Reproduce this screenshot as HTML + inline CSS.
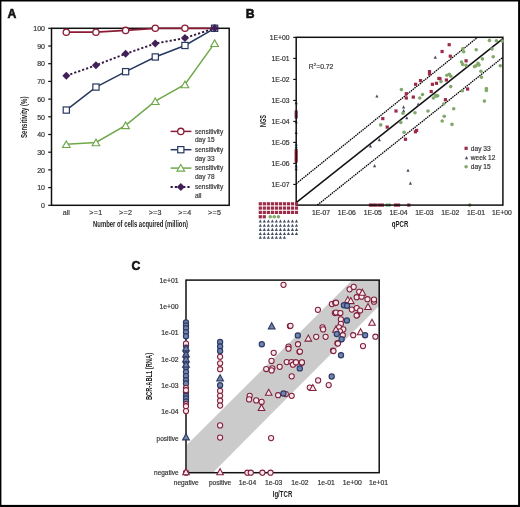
<!DOCTYPE html>
<html><head><meta charset="utf-8"><style>
html,body{margin:0;padding:0;background:#fff;}
svg{display:block;will-change:transform;font-family:"Liberation Sans", sans-serif;}
</style></head><body>
<svg width="520" height="507" viewBox="0 0 520 507">
<rect x="0" y="0" width="520" height="507" fill="#fff"/>
<text x="7.6" y="18.2" font-size="12.2" text-anchor="start" font-weight="bold" fill="#111" stroke="#111" stroke-width="0.55">A</text>
<rect x="51.5" y="28.3" width="177.7" height="177.0" fill="none" stroke="#111" stroke-width="1.5"/>
<line x1="48.2" y1="205.3" x2="51.5" y2="205.3" stroke="#111" stroke-width="1.2" />
<text x="45.0" y="208.0" font-size="7" text-anchor="end" font-weight="normal" fill="#333" stroke="#333" stroke-width="0.18" >0</text>
<line x1="48.2" y1="187.60000000000002" x2="51.5" y2="187.60000000000002" stroke="#111" stroke-width="1.2" />
<text x="45.0" y="190.3" font-size="7" text-anchor="end" font-weight="normal" fill="#333" stroke="#333" stroke-width="0.18" >10</text>
<line x1="48.2" y1="169.9" x2="51.5" y2="169.9" stroke="#111" stroke-width="1.2" />
<text x="45.0" y="172.6" font-size="7" text-anchor="end" font-weight="normal" fill="#333" stroke="#333" stroke-width="0.18" >20</text>
<line x1="48.2" y1="152.20000000000002" x2="51.5" y2="152.20000000000002" stroke="#111" stroke-width="1.2" />
<text x="45.0" y="154.9" font-size="7" text-anchor="end" font-weight="normal" fill="#333" stroke="#333" stroke-width="0.18" >30</text>
<line x1="48.2" y1="134.5" x2="51.5" y2="134.5" stroke="#111" stroke-width="1.2" />
<text x="45.0" y="137.2" font-size="7" text-anchor="end" font-weight="normal" fill="#333" stroke="#333" stroke-width="0.18" >40</text>
<line x1="48.2" y1="116.80000000000001" x2="51.5" y2="116.80000000000001" stroke="#111" stroke-width="1.2" />
<text x="45.0" y="119.50000000000001" font-size="7" text-anchor="end" font-weight="normal" fill="#333" stroke="#333" stroke-width="0.18" >50</text>
<line x1="48.2" y1="99.10000000000001" x2="51.5" y2="99.10000000000001" stroke="#111" stroke-width="1.2" />
<text x="45.0" y="101.80000000000001" font-size="7" text-anchor="end" font-weight="normal" fill="#333" stroke="#333" stroke-width="0.18" >60</text>
<line x1="48.2" y1="81.4" x2="51.5" y2="81.4" stroke="#111" stroke-width="1.2" />
<text x="45.0" y="84.10000000000001" font-size="7" text-anchor="end" font-weight="normal" fill="#333" stroke="#333" stroke-width="0.18" >70</text>
<line x1="48.2" y1="63.70000000000002" x2="51.5" y2="63.70000000000002" stroke="#111" stroke-width="1.2" />
<text x="45.0" y="66.40000000000002" font-size="7" text-anchor="end" font-weight="normal" fill="#333" stroke="#333" stroke-width="0.18" >80</text>
<line x1="48.2" y1="46.0" x2="51.5" y2="46.0" stroke="#111" stroke-width="1.2" />
<text x="45.0" y="48.7" font-size="7" text-anchor="end" font-weight="normal" fill="#333" stroke="#333" stroke-width="0.18" >90</text>
<line x1="48.2" y1="28.30000000000001" x2="51.5" y2="28.30000000000001" stroke="#111" stroke-width="1.2" />
<text x="45.0" y="31.00000000000001" font-size="7" text-anchor="end" font-weight="normal" fill="#333" stroke="#333" stroke-width="0.18" >100</text>
<text x="66.3" y="214.6" font-size="7.1" text-anchor="middle" font-weight="normal" fill="#333" stroke="#333" stroke-width="0.18" >all</text>
<text x="95.96" y="214.6" font-size="7.1" text-anchor="middle" font-weight="normal" fill="#333" stroke="#333" stroke-width="0.18" letter-spacing="0.35">&gt;=1</text>
<text x="125.62" y="214.6" font-size="7.1" text-anchor="middle" font-weight="normal" fill="#333" stroke="#333" stroke-width="0.18" letter-spacing="0.35">&gt;=2</text>
<text x="155.28" y="214.6" font-size="7.1" text-anchor="middle" font-weight="normal" fill="#333" stroke="#333" stroke-width="0.18" letter-spacing="0.35">&gt;=3</text>
<text x="184.94" y="214.6" font-size="7.1" text-anchor="middle" font-weight="normal" fill="#333" stroke="#333" stroke-width="0.18" letter-spacing="0.35">&gt;=4</text>
<text x="214.60000000000002" y="214.6" font-size="7.1" text-anchor="middle" font-weight="normal" fill="#333" stroke="#333" stroke-width="0.18" letter-spacing="0.35">&gt;=5</text>
<text transform="translate(140.5,227.3) scale(0.72,1)" font-size="8.2" text-anchor="middle" fill="#222" font-weight="bold">Number of cells acquired (million)</text>
<text transform="translate(27.2,117.3) rotate(-90) scale(0.74,1)" font-size="8.2" text-anchor="middle" fill="#222" font-weight="bold">Sensitivity (%)</text>
<polyline points="66.30,32.19 95.96,32.19 125.62,30.42 155.28,28.30 184.94,28.30 214.60,28.30" fill="none" stroke="#8a1c35" stroke-width="1.8" />
<polyline points="66.30,110.07 95.96,87.06 125.62,71.67 155.28,56.97 184.94,45.47 214.60,28.30" fill="none" stroke="#26385f" stroke-width="1.5" />
<polyline points="66.30,144.24 95.96,142.47 125.62,125.30 155.28,101.22 184.94,84.41 214.60,43.17" fill="none" stroke="#6fa84a" stroke-width="1.5" />
<polyline points="66.30,75.74 95.96,65.29 125.62,53.79 155.28,43.52 184.94,38.04 214.60,28.30" fill="none" stroke="#33193f" stroke-width="1.9" stroke-dasharray="2.2,2.0"/>
<circle cx="66.30" cy="32.19" r="3.15" fill="#fff" stroke="#8a1c35" stroke-width="1.3"/>
<circle cx="95.96" cy="32.19" r="3.15" fill="#fff" stroke="#8a1c35" stroke-width="1.3"/>
<circle cx="125.62" cy="30.42" r="3.15" fill="#fff" stroke="#8a1c35" stroke-width="1.3"/>
<circle cx="155.28" cy="28.30" r="3.15" fill="#fff" stroke="#8a1c35" stroke-width="1.3"/>
<circle cx="184.94" cy="28.30" r="3.15" fill="#fff" stroke="#8a1c35" stroke-width="1.3"/>
<circle cx="214.60" cy="28.30" r="3.15" fill="#fff" stroke="#8a1c35" stroke-width="1.3"/>
<rect x="63.20" y="106.97" width="6.2" height="6.2" fill="#fff" stroke="#26385f" stroke-width="1.2"/>
<rect x="92.86" y="83.96" width="6.2" height="6.2" fill="#fff" stroke="#26385f" stroke-width="1.2"/>
<rect x="122.52" y="68.57" width="6.2" height="6.2" fill="#fff" stroke="#26385f" stroke-width="1.2"/>
<rect x="152.18" y="53.87" width="6.2" height="6.2" fill="#fff" stroke="#26385f" stroke-width="1.2"/>
<rect x="181.84" y="42.37" width="6.2" height="6.2" fill="#fff" stroke="#26385f" stroke-width="1.2"/>
<rect x="211.50" y="25.20" width="6.2" height="6.2" fill="#fff" stroke="#26385f" stroke-width="1.2"/>
<polygon points="66.30,140.94 70.10,147.54 62.50,147.54" fill="#fff" stroke="#6fa84a" stroke-width="1.15" stroke-linejoin="miter"/>
<polygon points="95.96,139.16 99.76,145.77 92.16,145.77" fill="#fff" stroke="#6fa84a" stroke-width="1.15" stroke-linejoin="miter"/>
<polygon points="125.62,122.00 129.42,128.60 121.82,128.60" fill="#fff" stroke="#6fa84a" stroke-width="1.15" stroke-linejoin="miter"/>
<polygon points="155.28,97.92 159.08,104.52 151.48,104.52" fill="#fff" stroke="#6fa84a" stroke-width="1.15" stroke-linejoin="miter"/>
<polygon points="184.94,81.11 188.74,87.71 181.14,87.71" fill="#fff" stroke="#6fa84a" stroke-width="1.15" stroke-linejoin="miter"/>
<polygon points="214.60,39.87 218.40,46.47 210.80,46.47" fill="#fff" stroke="#6fa84a" stroke-width="1.15" stroke-linejoin="miter"/>
<polygon points="66.30,71.74 70.30,75.74 66.30,79.74 62.30,75.74" fill="#421f5a" stroke="#421f5a" stroke-width="0"/>
<polygon points="95.96,61.29 99.96,65.29 95.96,69.29 91.96,65.29" fill="#421f5a" stroke="#421f5a" stroke-width="0"/>
<polygon points="125.62,49.79 129.62,53.79 125.62,57.79 121.62,53.79" fill="#421f5a" stroke="#421f5a" stroke-width="0"/>
<polygon points="155.28,39.52 159.28,43.52 155.28,47.52 151.28,43.52" fill="#421f5a" stroke="#421f5a" stroke-width="0"/>
<polygon points="184.94,34.04 188.94,38.04 184.94,42.04 180.94,38.04" fill="#421f5a" stroke="#421f5a" stroke-width="0"/>
<polygon points="214.60,24.30 218.60,28.30 214.60,32.30 210.60,28.30" fill="#421f5a" stroke="#421f5a" stroke-width="0"/>
<line x1="170.6" y1="131.4" x2="191.4" y2="131.4" stroke="#8a1c35" stroke-width="1.5" />
<circle cx="180.80" cy="131.40" r="3.15" fill="#fff" stroke="#8a1c35" stroke-width="1.3"/>
<text x="195.0" y="133.6" font-size="6.5" text-anchor="start" font-weight="normal" fill="#333" stroke="#333" stroke-width="0.18" >sensitivity</text>
<text x="195.0" y="142.3" font-size="6.5" text-anchor="start" font-weight="normal" fill="#333" stroke="#333" stroke-width="0.18" >day 15</text>
<line x1="170.6" y1="149.7" x2="191.4" y2="149.7" stroke="#26385f" stroke-width="1.5" />
<rect x="177.70" y="146.60" width="6.2" height="6.2" fill="#fff" stroke="#26385f" stroke-width="1.2"/>
<text x="195.0" y="151.89999999999998" font-size="6.5" text-anchor="start" font-weight="normal" fill="#333" stroke="#333" stroke-width="0.18" >sensitivity</text>
<text x="195.0" y="160.6" font-size="6.5" text-anchor="start" font-weight="normal" fill="#333" stroke="#333" stroke-width="0.18" >day 33</text>
<line x1="170.6" y1="168.1" x2="191.4" y2="168.1" stroke="#6fa84a" stroke-width="1.5" />
<polygon points="180.80,164.47 184.60,171.07 177.00,171.07" fill="#fff" stroke="#6fa84a" stroke-width="1.15" stroke-linejoin="miter"/>
<text x="195.0" y="170.29999999999998" font-size="6.5" text-anchor="start" font-weight="normal" fill="#333" stroke="#333" stroke-width="0.18" >sensitivity</text>
<text x="195.0" y="179.0" font-size="6.5" text-anchor="start" font-weight="normal" fill="#333" stroke="#333" stroke-width="0.18" >day 78</text>
<line x1="170.6" y1="187.0" x2="191.4" y2="187.0" stroke="#33193f" stroke-width="1.9" stroke-dasharray="2.2,2.0"/>
<polygon points="180.80,183.00 184.80,187.00 180.80,191.00 176.80,187.00" fill="#421f5a" stroke="#421f5a" stroke-width="0"/>
<text x="195.0" y="189.2" font-size="6.5" text-anchor="start" font-weight="normal" fill="#333" stroke="#333" stroke-width="0.18" >sensitivity</text>
<text x="195.0" y="197.9" font-size="6.5" text-anchor="start" font-weight="normal" fill="#333" stroke="#333" stroke-width="0.18" >all</text>
<text x="245.8" y="18.2" font-size="12.2" text-anchor="start" font-weight="bold" fill="#111" stroke="#111" stroke-width="0.55">B</text>
<line x1="293.2" y1="37.4" x2="296.2" y2="37.4" stroke="#111" stroke-width="1.1" />
<text x="289.6" y="39.9" font-size="6.8" text-anchor="end" font-weight="normal" fill="#333" stroke="#333" stroke-width="0.18" >1E+00</text>
<line x1="293.2" y1="58.4" x2="296.2" y2="58.4" stroke="#111" stroke-width="1.1" />
<text x="289.6" y="60.9" font-size="6.8" text-anchor="end" font-weight="normal" fill="#333" stroke="#333" stroke-width="0.18" >1E-01</text>
<line x1="293.2" y1="79.4" x2="296.2" y2="79.4" stroke="#111" stroke-width="1.1" />
<text x="289.6" y="81.9" font-size="6.8" text-anchor="end" font-weight="normal" fill="#333" stroke="#333" stroke-width="0.18" >1E-02</text>
<line x1="293.2" y1="100.4" x2="296.2" y2="100.4" stroke="#111" stroke-width="1.1" />
<text x="289.6" y="102.9" font-size="6.8" text-anchor="end" font-weight="normal" fill="#333" stroke="#333" stroke-width="0.18" >1E-03</text>
<line x1="293.2" y1="121.4" x2="296.2" y2="121.4" stroke="#111" stroke-width="1.1" />
<text x="289.6" y="123.9" font-size="6.8" text-anchor="end" font-weight="normal" fill="#333" stroke="#333" stroke-width="0.18" >1E-04</text>
<line x1="293.2" y1="142.4" x2="296.2" y2="142.4" stroke="#111" stroke-width="1.1" />
<text x="289.6" y="144.9" font-size="6.8" text-anchor="end" font-weight="normal" fill="#333" stroke="#333" stroke-width="0.18" >1E-05</text>
<line x1="293.2" y1="163.4" x2="296.2" y2="163.4" stroke="#111" stroke-width="1.1" />
<text x="289.6" y="165.9" font-size="6.8" text-anchor="end" font-weight="normal" fill="#333" stroke="#333" stroke-width="0.18" >1E-06</text>
<line x1="293.2" y1="184.4" x2="296.2" y2="184.4" stroke="#111" stroke-width="1.1" />
<text x="289.6" y="186.9" font-size="6.8" text-anchor="end" font-weight="normal" fill="#333" stroke="#333" stroke-width="0.18" >1E-07</text>
<text x="321.0" y="214.6" font-size="6.8" text-anchor="middle" font-weight="normal" fill="#333" stroke="#333" stroke-width="0.18" >1E-07</text>
<text x="346.85" y="214.6" font-size="6.8" text-anchor="middle" font-weight="normal" fill="#333" stroke="#333" stroke-width="0.18" >1E-06</text>
<text x="372.7" y="214.6" font-size="6.8" text-anchor="middle" font-weight="normal" fill="#333" stroke="#333" stroke-width="0.18" >1E-05</text>
<text x="398.55" y="214.6" font-size="6.8" text-anchor="middle" font-weight="normal" fill="#333" stroke="#333" stroke-width="0.18" >1E-04</text>
<text x="424.4" y="214.6" font-size="6.8" text-anchor="middle" font-weight="normal" fill="#333" stroke="#333" stroke-width="0.18" >1E-03</text>
<text x="450.25" y="214.6" font-size="6.8" text-anchor="middle" font-weight="normal" fill="#333" stroke="#333" stroke-width="0.18" >1E-02</text>
<text x="476.1" y="214.6" font-size="6.8" text-anchor="middle" font-weight="normal" fill="#333" stroke="#333" stroke-width="0.18" >1E-01</text>
<text x="501.95000000000005" y="214.6" font-size="6.8" text-anchor="middle" font-weight="normal" fill="#333" stroke="#333" stroke-width="0.18" >1E+00</text>
<text transform="translate(400.0,227.3) scale(0.74,1)" font-size="8.2" text-anchor="middle" fill="#222" font-weight="bold">qPCR</text>
<text transform="translate(266.1,121.0) rotate(-90) scale(0.63,1)" font-size="8.8" text-anchor="middle" fill="#222" font-weight="bold">NGS</text>
<text x="308.8" y="68.9" font-size="6.8" fill="#333" stroke="#333" stroke-width="0.18">R<tspan font-size="4.4" dy="-2.8">2</tspan><tspan dy="2.8">=0.72</tspan></text>
<polygon points="296.20,101.10 297.80,104.20 294.60,104.20" fill="#434c60"/>
<polygon points="296.20,120.10 297.80,123.20 294.60,123.20" fill="#434c60"/>
<polygon points="296.20,131.00 297.80,134.10 294.60,134.10" fill="#434c60"/>
<polygon points="296.20,164.10 297.80,167.20 294.60,167.20" fill="#434c60"/>
<polygon points="296.20,167.10 297.80,170.20 294.60,170.20" fill="#434c60"/>
<polygon points="296.20,142.60 297.80,145.70 294.60,145.70" fill="#3f6a80"/>
<polygon points="296.20,145.10 297.80,148.20 294.60,148.20" fill="#3f6a80"/>
<polygon points="296.20,147.10 297.80,150.20 294.60,150.20" fill="#3f6a80"/>
<rect x="294.60" y="110.40" width="3.2" height="3.2" fill="#8a4466"/>
<rect x="294.60" y="112.90" width="3.2" height="3.2" fill="#8a4466"/>
<rect x="294.60" y="115.40" width="3.2" height="3.2" fill="#8a4466"/>
<rect x="294.60" y="149.40" width="3.2" height="3.2" fill="#b8304c"/>
<rect x="294.60" y="151.90" width="3.2" height="3.2" fill="#b8304c"/>
<rect x="294.60" y="154.40" width="3.2" height="3.2" fill="#b8304c"/>
<rect x="294.60" y="156.90" width="3.2" height="3.2" fill="#b8304c"/>
<rect x="294.60" y="159.40" width="3.2" height="3.2" fill="#b8304c"/>
<rect x="368.90" y="203.50" width="3.2" height="3.2" fill="#9c2b48"/>
<rect x="371.60" y="203.50" width="3.2" height="3.2" fill="#9c2b48"/>
<rect x="374.40" y="203.50" width="3.2" height="3.2" fill="#9c2b48"/>
<rect x="377.90" y="203.50" width="3.2" height="3.2" fill="#9c2b48"/>
<rect x="380.90" y="203.50" width="3.2" height="3.2" fill="#9c2b48"/>
<rect x="393.90" y="203.50" width="3.2" height="3.2" fill="#9c2b48"/>
<rect x="396.90" y="203.50" width="3.2" height="3.2" fill="#9c2b48"/>
<rect x="407.20" y="203.50" width="3.2" height="3.2" fill="#9c2b48"/>
<circle cx="387.00" cy="205.10" r="1.8" fill="#82a86c"/>
<circle cx="389.50" cy="205.10" r="1.8" fill="#82a86c"/>
<circle cx="469.80" cy="205.10" r="1.8" fill="#82a86c"/>
<rect x="296.2" y="37.3" width="206.7" height="167.8" fill="none" stroke="#111" stroke-width="1.5"/>
<line x1="296.5" y1="202.4" x2="503" y2="38.6" stroke="#111" stroke-width="1.5" />
<line x1="296.3" y1="183.6" x2="477.5" y2="37.4" stroke="#000" stroke-width="1.3" stroke-dasharray="1.5,0.8"/>
<line x1="317.4" y1="205" x2="503" y2="57.2" stroke="#000" stroke-width="1.3" stroke-dasharray="1.5,0.8"/>
<rect x="447.60" y="43.10" width="3.2" height="3.2" fill="#9c2b48"/>
<rect x="440.50" y="49.90" width="3.2" height="3.2" fill="#9c2b48"/>
<rect x="448.70" y="54.60" width="3.2" height="3.2" fill="#9c2b48"/>
<rect x="464.50" y="59.20" width="3.2" height="3.2" fill="#9c2b48"/>
<rect x="427.90" y="70.00" width="3.2" height="3.2" fill="#9c2b48"/>
<rect x="427.90" y="72.40" width="3.2" height="3.2" fill="#9c2b48"/>
<rect x="418.90" y="79.00" width="3.2" height="3.2" fill="#9c2b48"/>
<rect x="414.00" y="82.70" width="3.2" height="3.2" fill="#9c2b48"/>
<rect x="430.80" y="82.70" width="3.2" height="3.2" fill="#9c2b48"/>
<rect x="434.90" y="81.70" width="3.2" height="3.2" fill="#9c2b48"/>
<rect x="437.30" y="76.80" width="3.2" height="3.2" fill="#9c2b48"/>
<rect x="444.80" y="78.40" width="3.2" height="3.2" fill="#9c2b48"/>
<rect x="438.40" y="77.10" width="3.2" height="3.2" fill="#9c2b48"/>
<rect x="466.00" y="87.40" width="3.2" height="3.2" fill="#9c2b48"/>
<rect x="443.80" y="98.10" width="3.2" height="3.2" fill="#9c2b48"/>
<rect x="404.70" y="92.10" width="3.2" height="3.2" fill="#9c2b48"/>
<rect x="404.70" y="96.40" width="3.2" height="3.2" fill="#9c2b48"/>
<rect x="411.70" y="95.50" width="3.2" height="3.2" fill="#9c2b48"/>
<rect x="429.60" y="89.90" width="3.2" height="3.2" fill="#9c2b48"/>
<rect x="394.40" y="109.40" width="3.2" height="3.2" fill="#9c2b48"/>
<rect x="415.00" y="128.80" width="3.2" height="3.2" fill="#9c2b48"/>
<rect x="413.80" y="130.20" width="3.2" height="3.2" fill="#9c2b48"/>
<rect x="403.90" y="137.70" width="3.2" height="3.2" fill="#9c2b48"/>
<rect x="381.20" y="117.00" width="3.2" height="3.2" fill="#9c2b48"/>
<rect x="385.60" y="125.50" width="3.2" height="3.2" fill="#9c2b48"/>
<polygon points="435.30,55.60 436.90,58.70 433.70,58.70" fill="#434c60"/>
<polygon points="376.90,94.50 378.50,97.60 375.30,97.60" fill="#434c60"/>
<polygon points="403.60,105.30 405.20,108.40 402.00,108.40" fill="#434c60"/>
<polygon points="418.20,102.60 419.80,105.70 416.60,105.70" fill="#434c60"/>
<polygon points="406.80,116.20 408.40,119.30 405.20,119.30" fill="#434c60"/>
<polygon points="403.60,109.10 405.20,112.20 402.00,112.20" fill="#434c60"/>
<polygon points="379.30,138.10 380.90,141.20 377.70,141.20" fill="#434c60"/>
<polygon points="370.40,144.30 372.00,147.40 368.80,147.40" fill="#434c60"/>
<polygon points="374.60,164.10 376.20,167.20 373.00,167.20" fill="#434c60"/>
<polygon points="408.00,168.70 409.60,171.80 406.40,171.80" fill="#434c60"/>
<polygon points="410.40,181.60 412.00,184.70 408.80,184.70" fill="#434c60"/>
<circle cx="489.40" cy="40.40" r="1.8" fill="#82a86c"/>
<circle cx="496.40" cy="40.80" r="1.8" fill="#82a86c"/>
<circle cx="502.30" cy="41.00" r="1.8" fill="#82a86c"/>
<circle cx="463.00" cy="48.50" r="1.8" fill="#82a86c"/>
<circle cx="463.70" cy="51.70" r="1.8" fill="#82a86c"/>
<circle cx="476.20" cy="49.70" r="1.8" fill="#82a86c"/>
<circle cx="492.00" cy="49.00" r="1.8" fill="#82a86c"/>
<circle cx="482.40" cy="58.90" r="1.8" fill="#82a86c"/>
<circle cx="493.20" cy="56.80" r="1.8" fill="#82a86c"/>
<circle cx="461.50" cy="62.00" r="1.8" fill="#82a86c"/>
<circle cx="462.70" cy="64.40" r="1.8" fill="#82a86c"/>
<circle cx="466.10" cy="65.40" r="1.8" fill="#82a86c"/>
<circle cx="478.00" cy="63.40" r="1.8" fill="#82a86c"/>
<circle cx="479.00" cy="64.90" r="1.8" fill="#82a86c"/>
<circle cx="476.00" cy="65.80" r="1.8" fill="#82a86c"/>
<circle cx="474.50" cy="66.60" r="1.8" fill="#82a86c"/>
<circle cx="500.30" cy="65.80" r="1.8" fill="#82a86c"/>
<circle cx="480.90" cy="71.30" r="1.8" fill="#82a86c"/>
<circle cx="481.40" cy="77.20" r="1.8" fill="#82a86c"/>
<circle cx="449.40" cy="74.20" r="1.8" fill="#82a86c"/>
<circle cx="450.80" cy="76.20" r="1.8" fill="#82a86c"/>
<circle cx="446.90" cy="75.20" r="1.8" fill="#82a86c"/>
<circle cx="441.00" cy="81.60" r="1.8" fill="#82a86c"/>
<circle cx="450.70" cy="86.60" r="1.8" fill="#82a86c"/>
<circle cx="486.40" cy="88.50" r="1.8" fill="#82a86c"/>
<circle cx="486.40" cy="90.50" r="1.8" fill="#82a86c"/>
<circle cx="462.40" cy="90.80" r="1.8" fill="#82a86c"/>
<circle cx="443.60" cy="104.00" r="1.8" fill="#82a86c"/>
<circle cx="484.40" cy="101.10" r="1.8" fill="#82a86c"/>
<circle cx="453.70" cy="108.80" r="1.8" fill="#82a86c"/>
<circle cx="444.20" cy="116.30" r="1.8" fill="#82a86c"/>
<circle cx="442.20" cy="121.00" r="1.8" fill="#82a86c"/>
<circle cx="452.00" cy="124.40" r="1.8" fill="#82a86c"/>
<circle cx="436.20" cy="96.20" r="1.8" fill="#82a86c"/>
<circle cx="401.40" cy="89.60" r="1.8" fill="#82a86c"/>
<circle cx="422.50" cy="94.50" r="1.8" fill="#82a86c"/>
<circle cx="419.80" cy="98.00" r="1.8" fill="#82a86c"/>
<circle cx="435.60" cy="95.30" r="1.8" fill="#82a86c"/>
<circle cx="437.70" cy="95.80" r="1.8" fill="#82a86c"/>
<circle cx="433.40" cy="98.00" r="1.8" fill="#82a86c"/>
<circle cx="403.00" cy="113.20" r="1.8" fill="#82a86c"/>
<circle cx="415.00" cy="112.70" r="1.8" fill="#82a86c"/>
<circle cx="428.00" cy="111.00" r="1.8" fill="#82a86c"/>
<circle cx="400.80" cy="122.40" r="1.8" fill="#82a86c"/>
<circle cx="404.10" cy="132.20" r="1.8" fill="#82a86c"/>
<circle cx="380.70" cy="124.90" r="1.8" fill="#82a86c"/>
<rect x="258.70" y="202.20" width="3.2" height="3.2" fill="#9c2b48"/>
<rect x="262.72" y="202.20" width="3.2" height="3.2" fill="#9c2b48"/>
<rect x="266.74" y="202.20" width="3.2" height="3.2" fill="#9c2b48"/>
<rect x="270.76" y="202.20" width="3.2" height="3.2" fill="#9c2b48"/>
<rect x="274.78" y="202.20" width="3.2" height="3.2" fill="#9c2b48"/>
<rect x="278.80" y="202.20" width="3.2" height="3.2" fill="#9c2b48"/>
<rect x="282.82" y="202.20" width="3.2" height="3.2" fill="#9c2b48"/>
<rect x="286.84" y="202.20" width="3.2" height="3.2" fill="#9c2b48"/>
<rect x="290.86" y="202.20" width="3.2" height="3.2" fill="#9c2b48"/>
<rect x="294.88" y="202.20" width="3.2" height="3.2" fill="#9c2b48"/>
<rect x="258.70" y="206.50" width="3.2" height="3.2" fill="#9c2b48"/>
<rect x="262.72" y="206.50" width="3.2" height="3.2" fill="#9c2b48"/>
<rect x="266.74" y="206.50" width="3.2" height="3.2" fill="#9c2b48"/>
<rect x="270.76" y="206.50" width="3.2" height="3.2" fill="#9c2b48"/>
<rect x="274.78" y="206.50" width="3.2" height="3.2" fill="#9c2b48"/>
<rect x="278.80" y="206.50" width="3.2" height="3.2" fill="#9c2b48"/>
<rect x="282.82" y="206.50" width="3.2" height="3.2" fill="#9c2b48"/>
<rect x="286.84" y="206.50" width="3.2" height="3.2" fill="#9c2b48"/>
<rect x="290.86" y="206.50" width="3.2" height="3.2" fill="#9c2b48"/>
<rect x="294.88" y="206.50" width="3.2" height="3.2" fill="#9c2b48"/>
<rect x="258.70" y="210.80" width="3.2" height="3.2" fill="#9c2b48"/>
<rect x="262.72" y="210.80" width="3.2" height="3.2" fill="#9c2b48"/>
<rect x="266.74" y="210.80" width="3.2" height="3.2" fill="#9c2b48"/>
<rect x="270.76" y="210.80" width="3.2" height="3.2" fill="#9c2b48"/>
<rect x="274.78" y="210.80" width="3.2" height="3.2" fill="#9c2b48"/>
<rect x="278.80" y="210.80" width="3.2" height="3.2" fill="#9c2b48"/>
<rect x="282.82" y="210.80" width="3.2" height="3.2" fill="#9c2b48"/>
<rect x="286.84" y="210.80" width="3.2" height="3.2" fill="#9c2b48"/>
<rect x="290.86" y="210.80" width="3.2" height="3.2" fill="#9c2b48"/>
<rect x="294.88" y="210.80" width="3.2" height="3.2" fill="#9c2b48"/>
<rect x="258.70" y="215.15" width="3.2" height="3.2" fill="#9c2b48"/>
<rect x="262.70" y="215.15" width="3.2" height="3.2" fill="#9c2b48"/>
<circle cx="270.20" cy="216.75" r="1.8" fill="#82a86c"/>
<circle cx="274.20" cy="216.75" r="1.8" fill="#82a86c"/>
<circle cx="278.40" cy="216.75" r="1.8" fill="#82a86c"/>
<polygon points="260.30,219.40 261.90,222.50 258.70,222.50" fill="#434c60"/>
<polygon points="264.32,219.40 265.92,222.50 262.72,222.50" fill="#434c60"/>
<polygon points="268.34,219.40 269.94,222.50 266.74,222.50" fill="#434c60"/>
<polygon points="272.36,219.40 273.96,222.50 270.76,222.50" fill="#434c60"/>
<polygon points="276.38,219.40 277.98,222.50 274.78,222.50" fill="#434c60"/>
<polygon points="280.40,219.40 282.00,222.50 278.80,222.50" fill="#434c60"/>
<polygon points="284.42,219.40 286.02,222.50 282.82,222.50" fill="#434c60"/>
<polygon points="288.44,219.40 290.04,222.50 286.84,222.50" fill="#434c60"/>
<polygon points="292.46,219.40 294.06,222.50 290.86,222.50" fill="#434c60"/>
<polygon points="296.48,219.40 298.08,222.50 294.88,222.50" fill="#434c60"/>
<polygon points="260.30,223.70 261.90,226.80 258.70,226.80" fill="#434c60"/>
<polygon points="264.32,223.70 265.92,226.80 262.72,226.80" fill="#434c60"/>
<polygon points="268.34,223.70 269.94,226.80 266.74,226.80" fill="#434c60"/>
<polygon points="272.36,223.70 273.96,226.80 270.76,226.80" fill="#434c60"/>
<polygon points="276.38,223.70 277.98,226.80 274.78,226.80" fill="#434c60"/>
<polygon points="280.40,223.70 282.00,226.80 278.80,226.80" fill="#434c60"/>
<polygon points="284.42,223.70 286.02,226.80 282.82,226.80" fill="#434c60"/>
<polygon points="288.44,223.70 290.04,226.80 286.84,226.80" fill="#434c60"/>
<polygon points="292.46,223.70 294.06,226.80 290.86,226.80" fill="#434c60"/>
<polygon points="296.48,223.70 298.08,226.80 294.88,226.80" fill="#434c60"/>
<polygon points="260.30,227.80 261.90,230.90 258.70,230.90" fill="#434c60"/>
<polygon points="264.32,227.80 265.92,230.90 262.72,230.90" fill="#434c60"/>
<polygon points="268.34,227.80 269.94,230.90 266.74,230.90" fill="#434c60"/>
<polygon points="272.36,227.80 273.96,230.90 270.76,230.90" fill="#434c60"/>
<polygon points="276.38,227.80 277.98,230.90 274.78,230.90" fill="#434c60"/>
<polygon points="280.40,227.80 282.00,230.90 278.80,230.90" fill="#434c60"/>
<polygon points="284.42,227.80 286.02,230.90 282.82,230.90" fill="#434c60"/>
<polygon points="288.44,227.80 290.04,230.90 286.84,230.90" fill="#434c60"/>
<polygon points="292.46,227.80 294.06,230.90 290.86,230.90" fill="#434c60"/>
<polygon points="296.48,227.80 298.08,230.90 294.88,230.90" fill="#434c60"/>
<polygon points="260.30,231.90 261.90,235.00 258.70,235.00" fill="#434c60"/>
<polygon points="264.32,231.90 265.92,235.00 262.72,235.00" fill="#434c60"/>
<polygon points="268.34,231.90 269.94,235.00 266.74,235.00" fill="#434c60"/>
<polygon points="272.36,231.90 273.96,235.00 270.76,235.00" fill="#434c60"/>
<polygon points="276.38,231.90 277.98,235.00 274.78,235.00" fill="#434c60"/>
<polygon points="280.40,231.90 282.00,235.00 278.80,235.00" fill="#434c60"/>
<polygon points="284.42,231.90 286.02,235.00 282.82,235.00" fill="#434c60"/>
<polygon points="288.44,231.90 290.04,235.00 286.84,235.00" fill="#434c60"/>
<polygon points="292.46,231.90 294.06,235.00 290.86,235.00" fill="#434c60"/>
<polygon points="296.48,231.90 298.08,235.00 294.88,235.00" fill="#434c60"/>
<polygon points="260.30,235.70 261.90,238.80 258.70,238.80" fill="#434c60"/>
<polygon points="264.32,235.70 265.92,238.80 262.72,238.80" fill="#434c60"/>
<polygon points="268.34,235.70 269.94,238.80 266.74,238.80" fill="#434c60"/>
<polygon points="272.36,235.70 273.96,238.80 270.76,238.80" fill="#434c60"/>
<polygon points="276.38,235.70 277.98,238.80 274.78,238.80" fill="#434c60"/>
<polygon points="280.40,235.70 282.00,238.80 278.80,238.80" fill="#434c60"/>
<polygon points="284.42,235.70 286.02,238.80 282.82,238.80" fill="#434c60"/>
<rect x="464.50" y="146.70" width="3.2" height="3.2" fill="#9c2b48"/>
<text x="470.8" y="150.5" font-size="6.6" text-anchor="start" font-weight="normal" fill="#333" stroke="#333" stroke-width="0.18" >day 33</text>
<polygon points="466.50,156.10 468.10,159.20 464.90,159.20" fill="#434c60"/>
<text x="470.8" y="159.9" font-size="6.6" text-anchor="start" font-weight="normal" fill="#333" stroke="#333" stroke-width="0.18" >week 12</text>
<circle cx="466.10" cy="166.80" r="1.8" fill="#82a86c"/>
<text x="470.8" y="168.6" font-size="6.6" text-anchor="start" font-weight="normal" fill="#333" stroke="#333" stroke-width="0.18" >day 15</text>
<text x="131.6" y="270.3" font-size="12.2" text-anchor="start" font-weight="bold" fill="#111" stroke="#111" stroke-width="0.55">C</text>
<polygon points="187.00,444.73 352.30,280.10 379.20,280.10 379.20,305.70 212.83,472.70 187.00,472.70" fill="#cbcbcb"/>
<text x="178.6" y="282.70000000000005" font-size="6.8" text-anchor="end" font-weight="normal" fill="#333" stroke="#333" stroke-width="0.18" >1e+01</text>
<text x="178.6" y="309.00000000000006" font-size="6.8" text-anchor="end" font-weight="normal" fill="#333" stroke="#333" stroke-width="0.18" >1e+00</text>
<text x="178.6" y="335.30000000000007" font-size="6.8" text-anchor="end" font-weight="normal" fill="#333" stroke="#333" stroke-width="0.18" >1e-01</text>
<text x="178.6" y="361.6" font-size="6.8" text-anchor="end" font-weight="normal" fill="#333" stroke="#333" stroke-width="0.18" >1e-02</text>
<text x="178.6" y="387.90000000000003" font-size="6.8" text-anchor="end" font-weight="normal" fill="#333" stroke="#333" stroke-width="0.18" >1e-03</text>
<text x="178.6" y="414.20000000000005" font-size="6.8" text-anchor="end" font-weight="normal" fill="#333" stroke="#333" stroke-width="0.18" >1e-04</text>
<text x="178.6" y="440.50000000000006" font-size="6.5" text-anchor="end" font-weight="normal" fill="#333" stroke="#333" stroke-width="0.18" >positive</text>
<text x="178.6" y="475.3" font-size="6.5" text-anchor="end" font-weight="normal" fill="#333" stroke="#333" stroke-width="0.18" >negative</text>
<text x="186.2" y="484.8" font-size="6.6" text-anchor="middle" font-weight="normal" fill="#333" stroke="#333" stroke-width="0.18" >negative</text>
<text x="220.1" y="484.8" font-size="6.6" text-anchor="middle" font-weight="normal" fill="#333" stroke="#333" stroke-width="0.18" >positive</text>
<text x="247.5" y="484.8" font-size="6.8" text-anchor="middle" font-weight="normal" fill="#333" stroke="#333" stroke-width="0.18" >1e-04</text>
<text x="273.7" y="484.8" font-size="6.8" text-anchor="middle" font-weight="normal" fill="#333" stroke="#333" stroke-width="0.18" >1e-03</text>
<text x="299.9" y="484.8" font-size="6.8" text-anchor="middle" font-weight="normal" fill="#333" stroke="#333" stroke-width="0.18" >1e-02</text>
<text x="326.1" y="484.8" font-size="6.8" text-anchor="middle" font-weight="normal" fill="#333" stroke="#333" stroke-width="0.18" >1e-01</text>
<text x="352.3" y="484.8" font-size="6.8" text-anchor="middle" font-weight="normal" fill="#333" stroke="#333" stroke-width="0.18" >1e+00</text>
<text x="378.5" y="484.8" font-size="6.8" text-anchor="middle" font-weight="normal" fill="#333" stroke="#333" stroke-width="0.18" >1e+01</text>
<text transform="translate(282.5,497.3) scale(0.74,1)" font-size="8.2" text-anchor="middle" fill="#222" font-weight="bold">Ig/TCR</text>
<text transform="translate(152.2,376.5) rotate(-90) scale(0.7,1)" font-size="8.2" text-anchor="middle" fill="#222" font-weight="bold">BCR-ABL1 (RNA)</text>
<rect x="186.0" y="280.1" width="193.2" height="192.59999999999997" fill="none" stroke="#111" stroke-width="1.5"/>
<circle cx="186.00" cy="322.40" r="2.6" fill="#7083b2" stroke="#2e3b63" stroke-width="1.15"/>
<circle cx="186.00" cy="325.40" r="2.6" fill="#7083b2" stroke="#2e3b63" stroke-width="1.15"/>
<circle cx="186.00" cy="328.30" r="2.6" fill="#7083b2" stroke="#2e3b63" stroke-width="1.15"/>
<circle cx="186.00" cy="332.20" r="2.6" fill="#7083b2" stroke="#2e3b63" stroke-width="1.15"/>
<circle cx="186.00" cy="336.20" r="2.6" fill="#7083b2" stroke="#2e3b63" stroke-width="1.15"/>
<circle cx="186.00" cy="345.80" r="2.6" fill="#7083b2" stroke="#2e3b63" stroke-width="1.15"/>
<circle cx="186.00" cy="351.00" r="2.6" fill="#7083b2" stroke="#2e3b63" stroke-width="1.15"/>
<circle cx="186.00" cy="356.40" r="2.6" fill="#7083b2" stroke="#2e3b63" stroke-width="1.15"/>
<circle cx="186.00" cy="361.90" r="2.6" fill="#7083b2" stroke="#2e3b63" stroke-width="1.15"/>
<circle cx="186.00" cy="367.20" r="2.6" fill="#7083b2" stroke="#2e3b63" stroke-width="1.15"/>
<circle cx="186.00" cy="371.90" r="2.6" fill="#7083b2" stroke="#2e3b63" stroke-width="1.15"/>
<circle cx="186.00" cy="376.10" r="2.6" fill="#7083b2" stroke="#2e3b63" stroke-width="1.15"/>
<circle cx="186.00" cy="380.30" r="2.6" fill="#7083b2" stroke="#2e3b63" stroke-width="1.15"/>
<circle cx="186.00" cy="383.40" r="2.6" fill="#7083b2" stroke="#2e3b63" stroke-width="1.15"/>
<circle cx="186.00" cy="392.30" r="2.6" fill="#7083b2" stroke="#2e3b63" stroke-width="1.15"/>
<circle cx="186.00" cy="396.00" r="2.6" fill="#7083b2" stroke="#2e3b63" stroke-width="1.15"/>
<circle cx="186.00" cy="398.50" r="2.6" fill="#7083b2" stroke="#2e3b63" stroke-width="1.15"/>
<circle cx="186.00" cy="401.50" r="2.6" fill="#7083b2" stroke="#2e3b63" stroke-width="1.15"/>
<circle cx="186.00" cy="343.60" r="2.6" fill="#f9e8ec" stroke="#80203c" stroke-width="1.05"/>
<circle cx="186.00" cy="388.10" r="2.6" fill="#f9e8ec" stroke="#80203c" stroke-width="1.05"/>
<circle cx="186.00" cy="390.20" r="2.6" fill="#f9e8ec" stroke="#80203c" stroke-width="1.05"/>
<circle cx="186.00" cy="404.20" r="2.6" fill="#f9e8ec" stroke="#80203c" stroke-width="1.05"/>
<circle cx="186.00" cy="406.20" r="2.6" fill="#f9e8ec" stroke="#80203c" stroke-width="1.05"/>
<circle cx="186.00" cy="411.10" r="2.6" fill="#f9e8ec" stroke="#80203c" stroke-width="1.05"/>
<polygon points="186.00,344.90 189.30,350.90 182.70,350.90" fill="#7686aa" stroke="#2e3b63" stroke-width="1.2" stroke-linejoin="miter"/>
<polygon points="186.00,350.90 189.30,356.90 182.70,356.90" fill="#7686aa" stroke="#2e3b63" stroke-width="1.2" stroke-linejoin="miter"/>
<polygon points="186.00,355.80 189.30,361.80 182.70,361.80" fill="#7686aa" stroke="#2e3b63" stroke-width="1.2" stroke-linejoin="miter"/>
<polygon points="186.00,361.20 189.30,367.20 182.70,367.20" fill="#7686aa" stroke="#2e3b63" stroke-width="1.2" stroke-linejoin="miter"/>
<polygon points="186.00,433.80 189.30,439.80 182.70,439.80" fill="#7686aa" stroke="#2e3b63" stroke-width="1.2" stroke-linejoin="miter"/>
<circle cx="220.10" cy="356.80" r="2.6" fill="#f9e8ec" stroke="#80203c" stroke-width="1.05"/>
<circle cx="220.10" cy="363.30" r="2.6" fill="#f9e8ec" stroke="#80203c" stroke-width="1.05"/>
<circle cx="220.10" cy="369.20" r="2.6" fill="#f9e8ec" stroke="#80203c" stroke-width="1.05"/>
<circle cx="220.10" cy="390.90" r="2.6" fill="#f9e8ec" stroke="#80203c" stroke-width="1.05"/>
<circle cx="220.10" cy="395.80" r="2.6" fill="#f9e8ec" stroke="#80203c" stroke-width="1.05"/>
<circle cx="220.10" cy="400.70" r="2.6" fill="#f9e8ec" stroke="#80203c" stroke-width="1.05"/>
<circle cx="220.10" cy="405.60" r="2.6" fill="#f9e8ec" stroke="#80203c" stroke-width="1.05"/>
<circle cx="220.10" cy="425.40" r="2.6" fill="#f9e8ec" stroke="#80203c" stroke-width="1.05"/>
<circle cx="220.10" cy="437.60" r="2.6" fill="#f9e8ec" stroke="#80203c" stroke-width="1.05"/>
<circle cx="220.10" cy="342.00" r="2.6" fill="#7083b2" stroke="#2e3b63" stroke-width="1.15"/>
<circle cx="220.10" cy="346.50" r="2.6" fill="#7083b2" stroke="#2e3b63" stroke-width="1.15"/>
<circle cx="220.10" cy="351.00" r="2.6" fill="#7083b2" stroke="#2e3b63" stroke-width="1.15"/>
<circle cx="220.10" cy="385.20" r="2.6" fill="#7083b2" stroke="#2e3b63" stroke-width="1.15"/>
<polygon points="220.10,374.80 223.40,380.80 216.80,380.80" fill="#7686aa" stroke="#2e3b63" stroke-width="1.2" stroke-linejoin="miter"/>
<circle cx="247.40" cy="472.70" r="2.6" fill="#f9e8ec" stroke="#80203c" stroke-width="1.05"/>
<circle cx="250.80" cy="472.70" r="2.6" fill="#f9e8ec" stroke="#80203c" stroke-width="1.05"/>
<circle cx="262.40" cy="472.70" r="2.6" fill="#f9e8ec" stroke="#80203c" stroke-width="1.05"/>
<circle cx="270.50" cy="472.70" r="2.6" fill="#f9e8ec" stroke="#80203c" stroke-width="1.05"/>
<polygon points="220.10,468.70 223.40,474.70 216.80,474.70" fill="#f9e8ec" stroke="#80203c" stroke-width="1.05" stroke-linejoin="miter"/>
<circle cx="186.00" cy="472.70" r="2.6" fill="#f9e8ec" stroke="#80203c" stroke-width="1.05"/>
<polygon points="186.00,468.70 189.30,474.70 182.70,474.70" fill="#f9e8ec" stroke="#80203c" stroke-width="1.05" stroke-linejoin="miter"/>
<circle cx="283.50" cy="284.80" r="2.6" fill="#f9e8ec" stroke="#80203c" stroke-width="1.05"/>
<circle cx="289.90" cy="326.00" r="2.6" fill="#f9e8ec" stroke="#80203c" stroke-width="1.05"/>
<circle cx="288.50" cy="346.50" r="2.6" fill="#f9e8ec" stroke="#80203c" stroke-width="1.05"/>
<circle cx="288.50" cy="348.70" r="2.6" fill="#f9e8ec" stroke="#80203c" stroke-width="1.05"/>
<circle cx="298.00" cy="344.20" r="2.6" fill="#f9e8ec" stroke="#80203c" stroke-width="1.05"/>
<circle cx="299.50" cy="351.80" r="2.6" fill="#f9e8ec" stroke="#80203c" stroke-width="1.05"/>
<circle cx="273.70" cy="352.80" r="2.6" fill="#f9e8ec" stroke="#80203c" stroke-width="1.05"/>
<circle cx="271.50" cy="360.90" r="2.6" fill="#f9e8ec" stroke="#80203c" stroke-width="1.05"/>
<circle cx="286.70" cy="362.10" r="2.6" fill="#f9e8ec" stroke="#80203c" stroke-width="1.05"/>
<circle cx="291.50" cy="362.10" r="2.6" fill="#f9e8ec" stroke="#80203c" stroke-width="1.05"/>
<circle cx="295.50" cy="362.40" r="2.6" fill="#f9e8ec" stroke="#80203c" stroke-width="1.05"/>
<circle cx="293.00" cy="364.70" r="2.6" fill="#f9e8ec" stroke="#80203c" stroke-width="1.05"/>
<circle cx="301.80" cy="362.70" r="2.6" fill="#f9e8ec" stroke="#80203c" stroke-width="1.05"/>
<circle cx="266.20" cy="369.00" r="2.6" fill="#f9e8ec" stroke="#80203c" stroke-width="1.05"/>
<circle cx="272.30" cy="368.30" r="2.6" fill="#f9e8ec" stroke="#80203c" stroke-width="1.05"/>
<circle cx="271.60" cy="370.40" r="2.6" fill="#f9e8ec" stroke="#80203c" stroke-width="1.05"/>
<circle cx="279.70" cy="366.80" r="2.6" fill="#f9e8ec" stroke="#80203c" stroke-width="1.05"/>
<circle cx="291.70" cy="376.30" r="2.6" fill="#f9e8ec" stroke="#80203c" stroke-width="1.05"/>
<circle cx="317.90" cy="309.80" r="2.6" fill="#f9e8ec" stroke="#80203c" stroke-width="1.05"/>
<circle cx="331.90" cy="304.10" r="2.6" fill="#f9e8ec" stroke="#80203c" stroke-width="1.05"/>
<circle cx="335.20" cy="303.10" r="2.6" fill="#f9e8ec" stroke="#80203c" stroke-width="1.05"/>
<circle cx="334.90" cy="313.00" r="2.6" fill="#f9e8ec" stroke="#80203c" stroke-width="1.05"/>
<circle cx="339.30" cy="313.00" r="2.6" fill="#f9e8ec" stroke="#80203c" stroke-width="1.05"/>
<circle cx="290.50" cy="325.80" r="2.6" fill="#f9e8ec" stroke="#80203c" stroke-width="1.05"/>
<circle cx="322.50" cy="327.30" r="2.6" fill="#f9e8ec" stroke="#80203c" stroke-width="1.05"/>
<circle cx="349.60" cy="289.30" r="2.6" fill="#f9e8ec" stroke="#80203c" stroke-width="1.05"/>
<circle cx="353.70" cy="286.90" r="2.6" fill="#f9e8ec" stroke="#80203c" stroke-width="1.05"/>
<circle cx="359.20" cy="291.80" r="2.6" fill="#f9e8ec" stroke="#80203c" stroke-width="1.05"/>
<circle cx="356.70" cy="297.20" r="2.6" fill="#f9e8ec" stroke="#80203c" stroke-width="1.05"/>
<circle cx="361.60" cy="296.70" r="2.6" fill="#f9e8ec" stroke="#80203c" stroke-width="1.05"/>
<circle cx="367.50" cy="299.20" r="2.6" fill="#f9e8ec" stroke="#80203c" stroke-width="1.05"/>
<circle cx="374.00" cy="301.70" r="2.6" fill="#f9e8ec" stroke="#80203c" stroke-width="1.05"/>
<circle cx="374.00" cy="299.50" r="2.6" fill="#f9e8ec" stroke="#80203c" stroke-width="1.05"/>
<circle cx="336.00" cy="302.70" r="2.6" fill="#f9e8ec" stroke="#80203c" stroke-width="1.05"/>
<circle cx="351.80" cy="309.60" r="2.6" fill="#f9e8ec" stroke="#80203c" stroke-width="1.05"/>
<circle cx="356.70" cy="308.10" r="2.6" fill="#f9e8ec" stroke="#80203c" stroke-width="1.05"/>
<circle cx="360.10" cy="310.50" r="2.6" fill="#f9e8ec" stroke="#80203c" stroke-width="1.05"/>
<circle cx="357.20" cy="315.00" r="2.6" fill="#f9e8ec" stroke="#80203c" stroke-width="1.05"/>
<circle cx="336.00" cy="312.50" r="2.6" fill="#f9e8ec" stroke="#80203c" stroke-width="1.05"/>
<circle cx="340.40" cy="313.00" r="2.6" fill="#f9e8ec" stroke="#80203c" stroke-width="1.05"/>
<circle cx="340.90" cy="319.40" r="2.6" fill="#f9e8ec" stroke="#80203c" stroke-width="1.05"/>
<circle cx="340.90" cy="323.90" r="2.6" fill="#f9e8ec" stroke="#80203c" stroke-width="1.05"/>
<circle cx="339.00" cy="327.30" r="2.6" fill="#f9e8ec" stroke="#80203c" stroke-width="1.05"/>
<circle cx="316.20" cy="336.80" r="2.6" fill="#f9e8ec" stroke="#80203c" stroke-width="1.05"/>
<circle cx="323.10" cy="329.40" r="2.6" fill="#f9e8ec" stroke="#80203c" stroke-width="1.05"/>
<circle cx="325.60" cy="336.80" r="2.6" fill="#f9e8ec" stroke="#80203c" stroke-width="1.05"/>
<circle cx="299.90" cy="351.60" r="2.6" fill="#f9e8ec" stroke="#80203c" stroke-width="1.05"/>
<circle cx="337.40" cy="343.20" r="2.6" fill="#f9e8ec" stroke="#80203c" stroke-width="1.05"/>
<circle cx="333.00" cy="350.60" r="2.6" fill="#f9e8ec" stroke="#80203c" stroke-width="1.05"/>
<circle cx="296.00" cy="362.40" r="2.6" fill="#f9e8ec" stroke="#80203c" stroke-width="1.05"/>
<circle cx="301.90" cy="362.40" r="2.6" fill="#f9e8ec" stroke="#80203c" stroke-width="1.05"/>
<circle cx="356.60" cy="315.50" r="2.6" fill="#f9e8ec" stroke="#80203c" stroke-width="1.05"/>
<circle cx="343.30" cy="329.30" r="2.6" fill="#f9e8ec" stroke="#80203c" stroke-width="1.05"/>
<circle cx="339.90" cy="331.30" r="2.6" fill="#f9e8ec" stroke="#80203c" stroke-width="1.05"/>
<circle cx="342.80" cy="335.20" r="2.6" fill="#f9e8ec" stroke="#80203c" stroke-width="1.05"/>
<circle cx="337.90" cy="343.60" r="2.6" fill="#f9e8ec" stroke="#80203c" stroke-width="1.05"/>
<circle cx="333.50" cy="351.00" r="2.6" fill="#f9e8ec" stroke="#80203c" stroke-width="1.05"/>
<circle cx="353.20" cy="335.20" r="2.6" fill="#f9e8ec" stroke="#80203c" stroke-width="1.05"/>
<circle cx="375.40" cy="336.70" r="2.6" fill="#f9e8ec" stroke="#80203c" stroke-width="1.05"/>
<circle cx="363.00" cy="346.10" r="2.6" fill="#f9e8ec" stroke="#80203c" stroke-width="1.05"/>
<circle cx="278.10" cy="395.20" r="2.6" fill="#f9e8ec" stroke="#80203c" stroke-width="1.05"/>
<circle cx="285.80" cy="394.10" r="2.6" fill="#f9e8ec" stroke="#80203c" stroke-width="1.05"/>
<circle cx="291.70" cy="395.80" r="2.6" fill="#f9e8ec" stroke="#80203c" stroke-width="1.05"/>
<circle cx="249.70" cy="395.80" r="2.6" fill="#f9e8ec" stroke="#80203c" stroke-width="1.05"/>
<circle cx="249.10" cy="399.40" r="2.6" fill="#f9e8ec" stroke="#80203c" stroke-width="1.05"/>
<circle cx="256.20" cy="400.40" r="2.6" fill="#f9e8ec" stroke="#80203c" stroke-width="1.05"/>
<circle cx="261.60" cy="401.90" r="2.6" fill="#f9e8ec" stroke="#80203c" stroke-width="1.05"/>
<circle cx="318.10" cy="380.40" r="2.6" fill="#f9e8ec" stroke="#80203c" stroke-width="1.05"/>
<circle cx="328.70" cy="385.10" r="2.6" fill="#f9e8ec" stroke="#80203c" stroke-width="1.05"/>
<circle cx="309.80" cy="387.50" r="2.6" fill="#f9e8ec" stroke="#80203c" stroke-width="1.05"/>
<circle cx="271.10" cy="438.10" r="2.6" fill="#f9e8ec" stroke="#80203c" stroke-width="1.05"/>
<polygon points="362.40,289.20 365.70,295.20 359.10,295.20" fill="#f9e8ec" stroke="#80203c" stroke-width="1.05" stroke-linejoin="miter"/>
<polygon points="347.80,296.60 351.10,302.60 344.50,302.60" fill="#f9e8ec" stroke="#80203c" stroke-width="1.05" stroke-linejoin="miter"/>
<polygon points="350.80,297.60 354.10,303.60 347.50,303.60" fill="#f9e8ec" stroke="#80203c" stroke-width="1.05" stroke-linejoin="miter"/>
<polygon points="368.00,303.50 371.30,309.50 364.70,309.50" fill="#f9e8ec" stroke="#80203c" stroke-width="1.05" stroke-linejoin="miter"/>
<polygon points="372.00,319.30 375.30,325.30 368.70,325.30" fill="#f9e8ec" stroke="#80203c" stroke-width="1.05" stroke-linejoin="miter"/>
<polygon points="335.90,326.20 339.20,332.20 332.60,332.20" fill="#f9e8ec" stroke="#80203c" stroke-width="1.05" stroke-linejoin="miter"/>
<polygon points="360.60,328.70 363.90,334.70 357.30,334.70" fill="#f9e8ec" stroke="#80203c" stroke-width="1.05" stroke-linejoin="miter"/>
<polygon points="308.30,335.10 311.60,341.10 305.00,341.10" fill="#f9e8ec" stroke="#80203c" stroke-width="1.05" stroke-linejoin="miter"/>
<polygon points="268.70,389.30 272.00,395.30 265.40,395.30" fill="#f9e8ec" stroke="#80203c" stroke-width="1.05" stroke-linejoin="miter"/>
<polygon points="261.50,404.40 264.80,410.40 258.20,410.40" fill="#f9e8ec" stroke="#80203c" stroke-width="1.05" stroke-linejoin="miter"/>
<polygon points="312.80,384.50 316.10,390.50 309.50,390.50" fill="#f9e8ec" stroke="#80203c" stroke-width="1.05" stroke-linejoin="miter"/>
<circle cx="261.80" cy="344.30" r="2.6" fill="#7083b2" stroke="#2e3b63" stroke-width="1.15"/>
<circle cx="297.80" cy="335.40" r="2.6" fill="#7083b2" stroke="#2e3b63" stroke-width="1.15"/>
<circle cx="299.80" cy="368.40" r="2.6" fill="#7083b2" stroke="#2e3b63" stroke-width="1.15"/>
<circle cx="283.50" cy="393.50" r="2.6" fill="#7083b2" stroke="#2e3b63" stroke-width="1.15"/>
<circle cx="331.70" cy="376.50" r="2.6" fill="#7083b2" stroke="#2e3b63" stroke-width="1.15"/>
<circle cx="343.90" cy="305.20" r="2.6" fill="#7083b2" stroke="#2e3b63" stroke-width="1.15"/>
<circle cx="347.00" cy="305.80" r="2.6" fill="#7083b2" stroke="#2e3b63" stroke-width="1.15"/>
<circle cx="346.90" cy="320.50" r="2.6" fill="#7083b2" stroke="#2e3b63" stroke-width="1.15"/>
<circle cx="336.80" cy="334.00" r="2.6" fill="#7083b2" stroke="#2e3b63" stroke-width="1.15"/>
<circle cx="341.60" cy="339.20" r="2.6" fill="#7083b2" stroke="#2e3b63" stroke-width="1.15"/>
<circle cx="341.00" cy="355.20" r="2.6" fill="#7083b2" stroke="#2e3b63" stroke-width="1.15"/>
<circle cx="365.10" cy="335.30" r="2.6" fill="#7083b2" stroke="#2e3b63" stroke-width="1.15"/>
<polygon points="271.70,322.80 275.00,328.80 268.40,328.80" fill="#7686aa" stroke="#2e3b63" stroke-width="1.2" stroke-linejoin="miter"/>
<rect x="0" y="0" width="520" height="1.5" fill="#000"/><rect x="0" y="0" width="1.4" height="507" fill="#000"/><rect x="518.1" y="0" width="1.9" height="507" fill="#000"/><rect x="0" y="504.9" width="520" height="2.1" fill="#000"/>
</svg>
</body></html>
